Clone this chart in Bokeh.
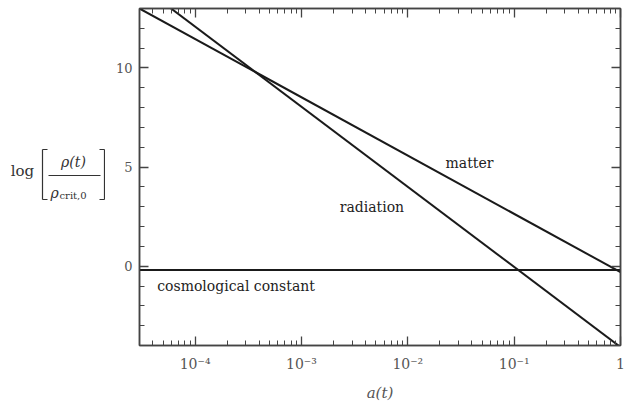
from bokeh.plotting import figure
from bokeh.layouts import row
from bokeh.models import (Range1d, LogAxis, LinearAxis, LogTicker, SingleIntervalTicker,
                          CustomJSTickFormatter, ColumnDataSource)
from bokeh.core.properties import value
from bokeh.embed import file_html
from bokeh.resources import INLINE

# ---- data ----
scale_factor = [3.0e-5, 1.0]
matter = [13.0, -0.3]
radiation = [14.2, -4.08]
cosmological_constant = [-0.19, -0.19]

label_texts = ["matter", "radiation", "cosmological constant"]
label_x = [0.038, 0.0046, 4.4e-5]
label_y = [5.2, 3.0, -1.0]
label_align = ["center", "center", "left"]

SERIF = "DejaVu Serif"
LINE = "#1a1a1a"
AX = "#444444"
TICKLAB = "#555555"
LC = "#333333"

W, H = 635, 407
LW = 105            # width of the panel holding the y-axis title
FB = 345            # frame bottom in page pixels

# ---------------- main plot ----------------
p = figure(width=W - LW, height=H, x_axis_type="log",
           x_range=Range1d(3.0e-5, 1.0), y_range=Range1d(-4, 13),
           output_backend="svg", toolbar_location=None,
           min_border_left=139 - LW, min_border_right=15, min_border_top=8,
           min_border_bottom=H - FB)
p.grid.visible = False
p.outline_line_color = AX
p.outline_line_width = 1.5

fmt = CustomJSTickFormatter(code="""
const m = {"-5":"10\u207B\u2075","-4":"10\u207B\u2074","-3":"10\u207B\u00B3","-2":"10\u207B\u00B2","-1":"10\u207B\u00B9","0":"1"};
const e = Math.round(Math.log10(tick));
return m[String(e)] || String(tick);
""")
blank = CustomJSTickFormatter(code="return ' ';")

def style_axis(ax, show_labels):
    ax.axis_line_color = AX
    ax.axis_line_width = 1.5
    ax.major_tick_line_color = AX
    ax.minor_tick_line_color = AX
    ax.major_tick_line_width = 1.3
    ax.minor_tick_line_width = 1.0
    ax.major_tick_in = 9
    ax.major_tick_out = 0
    ax.minor_tick_in = 5
    ax.minor_tick_out = 0
    if show_labels:
        ax.major_label_text_font = SERIF
        ax.major_label_text_font_size = "13px"
        ax.major_label_text_color = TICKLAB
    else:
        ax.formatter = blank
        ax.major_label_text_font_size = "2px"
        ax.major_label_text_alpha = 0
        ax.major_label_standoff = 0

xa = p.xaxis[0]
xa.ticker = LogTicker(num_minor_ticks=10)
xa.formatter = fmt
style_axis(xa, True)
xa.major_label_text_font_size = "14px"
xa.major_label_standoff = 10
xa.axis_label = "a(t)"
xa.axis_label_text_font = SERIF
xa.axis_label_text_font_style = "italic"
xa.axis_label_text_font_size = "15px"
xa.axis_label_text_color = TICKLAB
xa.axis_label_standoff = 9

ya = p.yaxis[0]
ya.ticker = SingleIntervalTicker(interval=5, num_minor_ticks=5)
style_axis(ya, True)
ya.major_label_standoff = 7
ya.major_label_orientation = "horizontal"

top = LogAxis(ticker=LogTicker(num_minor_ticks=10))
style_axis(top, False)
p.add_layout(top, "above")
right = LinearAxis(ticker=SingleIntervalTicker(interval=5, num_minor_ticks=5))
style_axis(right, False)
p.add_layout(right, "right")

src = ColumnDataSource(dict(a=scale_factor, m=matter, r=radiation, l=cosmological_constant))
p.line("a", "m", source=src, line_color=LINE, line_width=2)
p.line("a", "r", source=src, line_color=LINE, line_width=2)
p.line("a", "l", source=src, line_color=LINE, line_width=2)

lsrc = ColumnDataSource(dict(x=label_x, y=label_y, t=label_texts, al=label_align))
p.text("x", "y", text="t", source=lsrc, text_align="al", text_baseline="middle",
       text_font=value(SERIF), text_font_size="14px", text_color="#222222")

# ---------------- y-axis title panel: log [ rho(t) / rho_crit,0 ] ----------------
t = figure(frame_width=LW, frame_height=H, x_range=Range1d(0, LW), y_range=Range1d(H, 0),
           output_backend="svg", toolbar_location=None, title=None,
           x_axis_location=None, y_axis_location=None,
           min_border_left=0, min_border_right=0, min_border_top=0, min_border_bottom=0)
t.grid.visible = False
t.outline_line_color = None

def lab(x, y, text, size, style="normal", align="center"):
    t.text([x], [y], text=[text], text_font=value(SERIF), text_font_size=size,
           text_font_style=style, text_align=align, text_baseline="middle", text_color=LC)

lab(22, 162, "log", "15px")
lab(73, 153, "ρ(t)", "14px", style="italic")
lab(54, 184, "ρ", "14px", style="italic")
lab(59, 187, "crit,0", "10px", align="left")
t.segment(x0=[48], y0=[167], x1=[100], y1=[167], line_color=LC, line_width=1)
# brackets
bx0 = [42, 42, 42, 104, 99, 99]
by0 = [141, 141, 191, 141, 141, 191]
bx1 = [42, 47, 47, 104, 104, 104]
by1 = [191, 141, 191, 191, 141, 191]
t.segment(x0=bx0, y0=by0, x1=bx1, y1=by1, line_color=LC, line_width=1.2)

layout = row(t, p, spacing=0)
open("out.html", "w").write(file_html(layout, INLINE))
